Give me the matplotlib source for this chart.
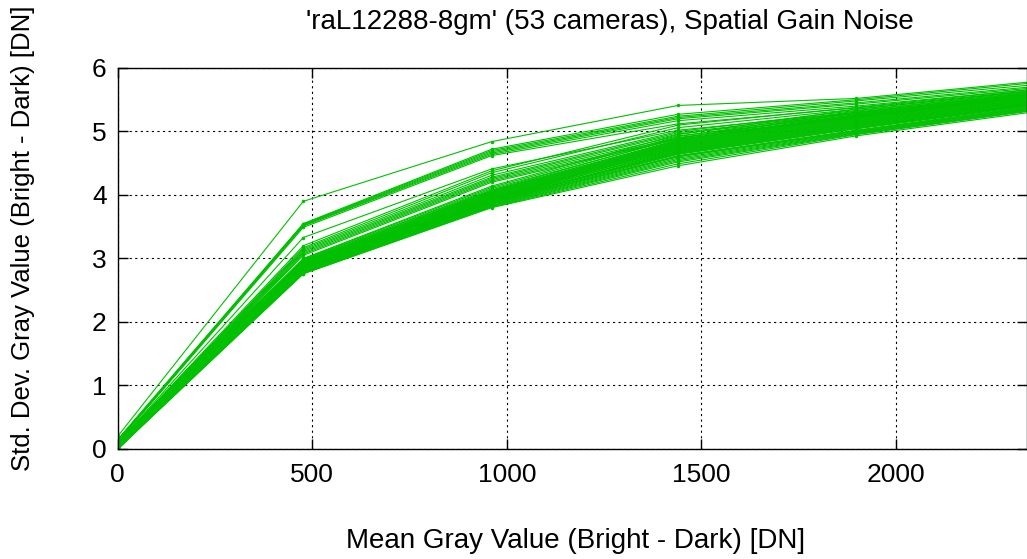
import matplotlib
matplotlib.use("Agg")
import matplotlib.pyplot as plt

# mean gray value steps (Bright - Dark) [DN]
mean_gray = [0, 477, 961, 1440, 1897, 2380]

# std. dev. per camera at each step (53 cameras)
std_0 = [0.20,
         0.15, 0.14, 0.13, 0.12, 0.12, 0.11,
         0.10,
         0.10, 0.09, 0.09, 0.08, 0.08, 0.07, 0.07, 0.06,
         0.12, 0.10, 0.09, 0.08, 0.07, 0.06, 0.06, 0.05, 0.05, 0.04,
         0.04, 0.03, 0.03, 0.03, 0.02, 0.02, 0.02, 0.01, 0.01, 0.01,
         0.00, 0.00, 0.00, 0.05, 0.04, 0.03, 0.02, 0.01, 0.00, 0.06,
         0.05, 0.03, 0.02, 0.01, 0.00, 0.02, 0.00]
std_1 = [3.90,
         3.55, 3.54, 3.53, 3.52, 3.51, 3.49,
         3.33,
         3.20, 3.17, 3.15, 3.13, 3.11, 3.09, 3.07, 3.05,
         3.00, 2.99, 2.98, 2.97, 2.96, 2.95, 2.95, 2.94, 2.93, 2.93,
         2.92, 2.91, 2.91, 2.90, 2.90, 2.89, 2.88, 2.88, 2.87, 2.87,
         2.86, 2.85, 2.85, 2.84, 2.84, 2.83, 2.82, 2.82, 2.81, 2.80,
         2.80, 2.79, 2.78, 2.78, 2.77, 2.76, 2.76]
std_2 = [4.84,
         4.72, 4.70, 4.68, 4.66, 4.64, 4.62,
         4.41,
         4.38, 4.35, 4.31, 4.28, 4.26, 4.24, 4.22, 4.20,
         4.14, 4.12, 4.08, 4.10, 4.06, 4.05, 4.07, 4.03, 4.02, 4.04,
         4.00, 3.99, 4.01, 3.97, 3.98, 3.96, 3.95, 3.94, 3.96, 3.93,
         3.92, 3.94, 3.91, 3.90, 3.92, 3.89, 3.88, 3.90, 3.87, 3.86,
         3.88, 3.85, 3.84, 3.83, 3.82, 3.81, 3.80]
std_3 = [5.41,
         5.27, 5.24, 5.22, 5.20, 5.17, 5.12,
         5.02,
         5.10, 5.06, 5.00, 4.98, 4.96, 4.93, 4.90, 4.88,
         4.95, 4.92, 4.90, 4.89, 4.87, 4.85, 4.86, 4.83, 4.82, 4.84,
         4.80, 4.79, 4.81, 4.77, 4.78, 4.76, 4.74, 4.75, 4.73, 4.71,
         4.72, 4.70, 4.68, 4.69, 4.66, 4.67, 4.64, 4.65, 4.62, 4.60,
         4.61, 4.58, 4.56, 4.54, 4.52, 4.49, 4.46]
std_4 = [5.52,
         5.50, 5.48, 5.45, 5.43, 5.40, 5.37,
         5.30,
         5.38, 5.35, 5.33, 5.30, 5.28, 5.26, 5.24, 5.22,
         5.35, 5.32, 5.30, 5.29, 5.27, 5.25, 5.26, 5.23, 5.22, 5.24,
         5.20, 5.19, 5.21, 5.17, 5.18, 5.16, 5.14, 5.15, 5.13, 5.11,
         5.12, 5.10, 5.08, 5.09, 5.06, 5.07, 5.04, 5.05, 5.02, 5.00,
         5.01, 4.99, 4.98, 4.97, 4.96, 4.95, 4.93]
std_5 = [5.80,
         5.78, 5.75, 5.72, 5.70, 5.68, 5.66,
         5.62,
         5.68, 5.66, 5.64, 5.62, 5.60, 5.58, 5.57, 5.55,
         5.65, 5.63, 5.61, 5.60, 5.59, 5.57, 5.58, 5.56, 5.55, 5.56,
         5.53, 5.52, 5.54, 5.51, 5.52, 5.50, 5.49, 5.50, 5.48, 5.47,
         5.48, 5.46, 5.45, 5.46, 5.44, 5.45, 5.43, 5.44, 5.42, 5.40,
         5.41, 5.39, 5.38, 5.37, 5.36, 5.35, 5.33]

plt.rcParams['font.family'] = ['Liberation Sans', 'DejaVu Sans']

fig = plt.figure(figsize=(10.27, 5.59), dpi=100)
ax = fig.add_axes([0.1146, 0.1968, 0.8854, 0.6816])

green = '#00c000'
for i in range(len(std_0)):
    ys = [std_0[i], std_1[i], std_2[i], std_3[i], std_4[i], std_5[i]]
    ax.plot(mean_gray, ys, color=green, lw=0.8, marker='.', markersize=3)

ax.set_xlim(0, 2337)
ax.set_ylim(0, 6)
ax.set_xticks([0, 500, 1000, 1500, 2000])
ax.set_yticks([0, 1, 2, 3, 4, 5, 6])
ax.tick_params(direction='in', length=7, width=1, top=True, right=True,
               labelsize=19)
ax.tick_params(axis='x', pad=10)
ax.tick_params(axis='y', pad=8)
ax.grid(True, color='black', linestyle=(0, (2, 3)), lw=0.8)
for s in ax.spines.values():
    s.set_linewidth(1)

fig.text(610 / 1027, 1 - 22 / 559, "'raL12288-8gm' (53 cameras), Spatial Gain Noise",
         ha='center', va='center', fontsize=20)
fig.text(576 / 1027, 1 - 541 / 559, 'Mean Gray Value (Bright - Dark) [DN]',
         ha='center', va='center', fontsize=20)
fig.text(23 / 1027, 1 - 238 / 559, 'Std. Dev. Gray Value (Bright - Dark) [DN]',
         ha='center', va='center', rotation=90, fontsize=18.5)

fig.savefig('out.png', dpi=100)
